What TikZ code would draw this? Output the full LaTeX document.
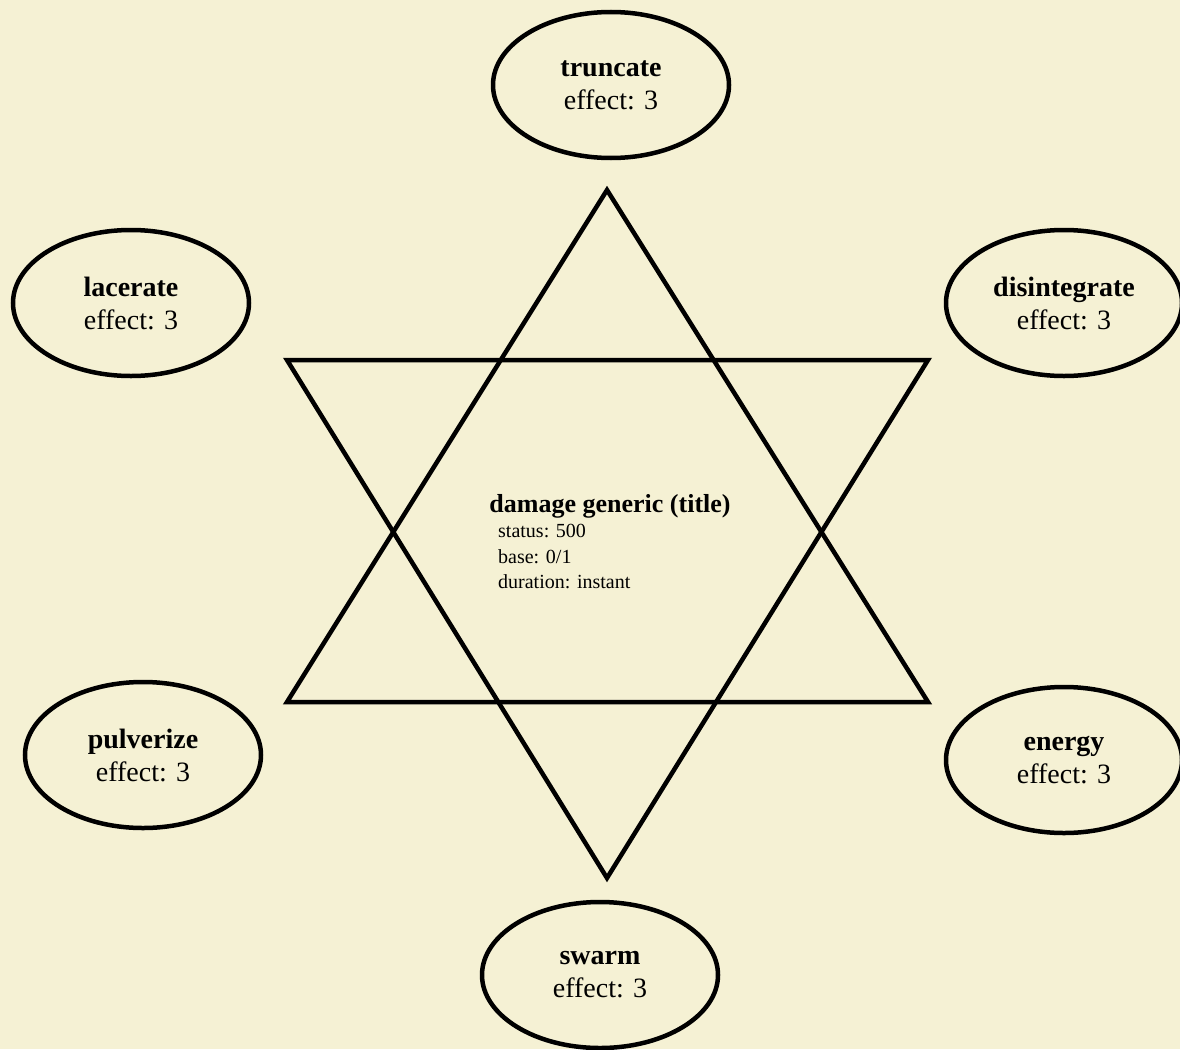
\documentclass[tikz,border=0pt]{standalone}
\usepackage{fontspec}
\setmainfont{Liberation Serif}
\usetikzlibrary{shapes.geometric}
\definecolor{parchment}{RGB}{245,241,212}

\begin{document}
\begin{tikzpicture}[x=1pt, y=-1pt,
  effnode/.style={draw, ellipse, line width=4.5pt, minimum width=236pt, minimum height=146pt, inner sep=2pt, align=center, font=\fontsize{28}{33}\selectfont},
  starline/.style={line width=4.5pt, line join=miter},
  infotext/.style={anchor=north west, align=left, inner sep=0pt, font=\fontsize{20}{25.5}\selectfont}]
  \fill[parchment] (0,0) rectangle (1180,1049);
  \useasboundingbox (0,0) rectangle (1180,1049);
  % star
  \coordinate (up1) at (607,190);
  \coordinate (up2) at (928,702);
  \coordinate (up3) at (287,702);
  \coordinate (dn1) at (607,878);
  \coordinate (dn2) at (287,360);
  \coordinate (dn3) at (928,360);
  \draw[starline] (up1) -- (up2) -- (up3) -- cycle;
  \draw[starline] (dn1) -- (dn2) -- (dn3) -- cycle;
  % centre
  \node[font=\fontsize{26}{30}\selectfont\bfseries, inner sep=0pt] (title) at (610,506) {damage generic (title)};
  \node[infotext] (info) at (498,524) {status: 500\\base: 0/1\\duration: instant};
  % effects
  \node[effnode] (trunc) at (611,85) {\textbf{truncate}\\effect: 3};
  \node[effnode] (lacer) at (131,303) {\textbf{lacerate}\\effect: 3};
  \node[effnode] (disin) at (1064,303) {\textbf{disintegrate}\\effect: 3};
  \node[effnode] (pulv) at (143,755) {\textbf{pulverize}\\effect: 3};
  \node[effnode] (energy) at (1064,760) {\textbf{energy}\\effect: 3};
  \node[effnode] (swarm) at (600,975) {\textbf{swarm}\\effect: 3};
\end{tikzpicture}
\end{document}
